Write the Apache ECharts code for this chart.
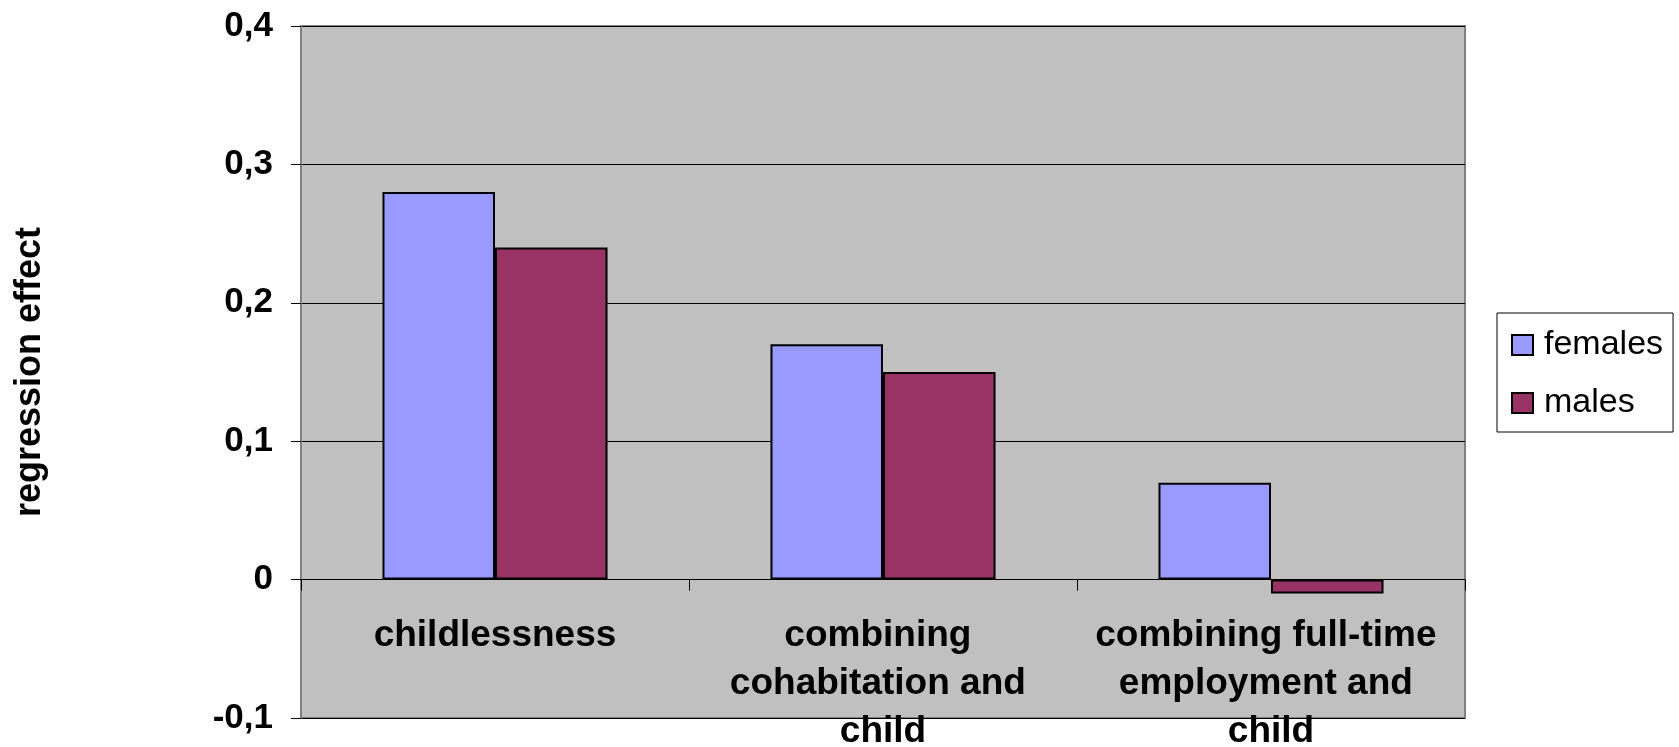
<!DOCTYPE html>
<html>
<head>
<meta charset="utf-8">
<script src="https://cdn.jsdelivr.net/npm/echarts@6/dist/echarts.min.js"></script>
<style>
html,body{margin:0;padding:0;background:#fff;}
#chart{width:1679px;height:747px;}
</style>
</head>
<body>
<div id="chart"></div>
<script>
const categories = ['childlessness', 'combining cohabitation and child', 'combining full-time employment and child'];
const females = [0.28, 0.17, 0.07];
const males = [0.24, 0.15, -0.01];
const seriesNames = ['females', 'males'];
const yTicks = { min: -0.1, max: 0.4, interval: 0.1 };

const FONT = "'Liberation Sans', Arial, sans-serif";
const chart = echarts.init(document.getElementById('chart'), null, { renderer: 'canvas' });
chart.setOption({
  animation: false,
  backgroundColor: '#ffffff',
  grid: {
    left: 301, right: 214, top: 26, bottom: 29,
    containLabel: false,
    outerBoundsMode: 'none',
    show: true, backgroundColor: '#C0C0C0', borderColor: '#808080', borderWidth: 2
  },
  legend: {
    orient: 'vertical',
    left: 1497, top: 313,
    padding: [15, 10, 12, 14],
    icon: 'rect',
    itemWidth: 21, itemHeight: 20, itemGap: 24,
    borderColor: '#000', borderWidth: 1,
    backgroundColor: '#fff',
    data: seriesNames,
    textStyle: { fontFamily: FONT, fontSize: 34, color: '#000', padding: [0, 0, 0, 6] }
  },
  xAxis: {
    type: 'category',
    data: categories,
    z: 5,
    axisLine: { onZero: true, lineStyle: { color: '#000', width: 1 } },
    axisTick: { show: true, length: 11, lineStyle: { color: '#000' } },
    axisLabel: {
      interval: 0, margin: -106, hideOverlap: false,
      fontFamily: FONT, fontSize: 37, fontWeight: 'bold', color: '#000',
      width: 370, overflow: 'break', lineHeight: 48, align: 'center'
    },
    splitLine: { show: false }
  },
  yAxis: {
    type: 'value',
    min: yTicks.min, max: yTicks.max, interval: yTicks.interval,
    name: 'regression effect',
    nameLocation: 'middle',
    nameGap: 253,
    nameTextStyle: { fontFamily: FONT, fontSize: 36, fontWeight: 'bold', color: '#000' },
    axisLine: { show: true, lineStyle: { color: '#808080', width: 2 } },
    axisTick: { show: true, length: 10, lineStyle: { color: '#000' } },
    axisLabel: {
      margin: 28,
      fontFamily: FONT, fontSize: 35, fontWeight: 'bold', color: '#000',
      formatter: v => (Math.round(v * 10) / 10).toString().replace('.', ',')
    },
    splitLine: { show: true, lineStyle: { color: '#000', width: 1 } }
  },
  series: [
    {
      name: seriesNames[0], type: 'bar', data: females,
      barGap: '0%', barCategoryGap: '42%',
      itemStyle: { color: '#9999FF', borderColor: '#000', borderWidth: 2 }
    },
    {
      name: seriesNames[1], type: 'bar', data: males,
      barGap: '0%', barCategoryGap: '42%',
      itemStyle: { color: '#993366', borderColor: '#000', borderWidth: 2 }
    }
  ]
});
</script>
</body>
</html>
